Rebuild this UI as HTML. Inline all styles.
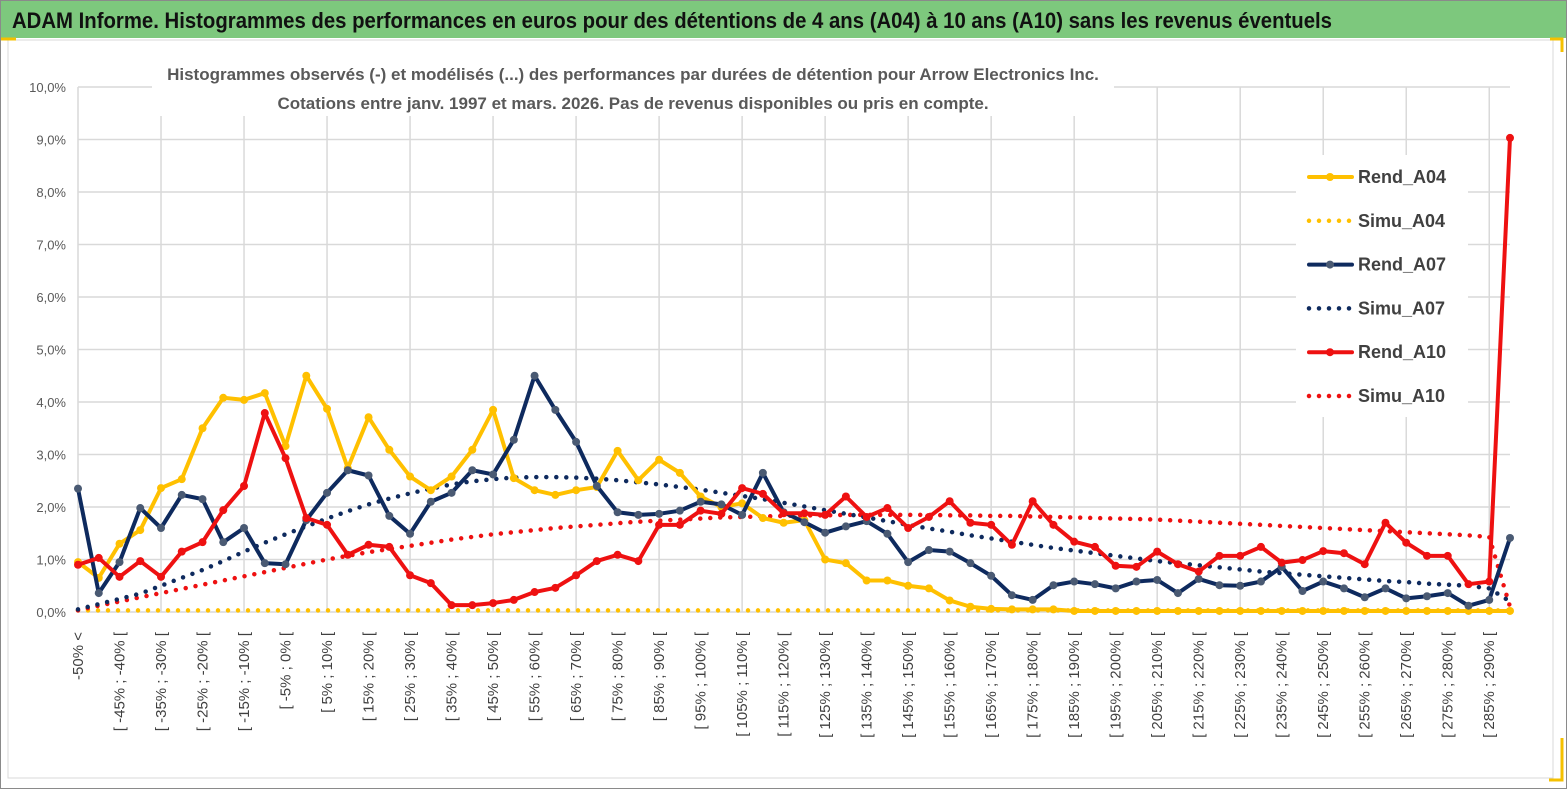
<!DOCTYPE html>
<html><head><meta charset="utf-8">
<style>
body{margin:0;width:1567px;height:789px;overflow:hidden;background:#fff;font-family:"Liberation Sans",sans-serif;}
#wrap{position:relative;width:1567px;height:789px;}
</style></head>
<body>
<div id="wrap">
<svg id="chart" width="1567" height="789" xmlns="http://www.w3.org/2000/svg">
  <rect x="0.5" y="0.5" width="1566" height="788" fill="#fff" stroke="#8a8a8a"/>
  <rect x="1" y="1" width="1565" height="37" fill="#7dc87d"/>
  <text x="12" y="28" font-size="22" font-weight="bold" fill="#111" textLength="1320" lengthAdjust="spacingAndGlyphs">ADAM Informe. Histogrammes des performances en euros pour des détentions de 4 ans (A04) à 10 ans (A10) sans les revenus éventuels</text>
  <rect x="8" y="40" width="1545" height="738" fill="#fff" stroke="#d9d9d9"/>
  <path d="M1 39 H16" stroke="#f5c000" stroke-width="3"/>
  <path d="M1550 39 H1562 V52" stroke="#f5c000" stroke-width="3" fill="none"/>
  <path d="M1562 738 V780 H1549" stroke="#f5c000" stroke-width="3" fill="none"/>
  <g id="grid"></g>
  <g id="ylabels"></g>
  <g id="xlabels"></g>
  <rect x="152" y="58" width="962" height="58" fill="#fff"/>
  <text x="633" y="80" font-size="17" font-weight="bold" fill="#595959" text-anchor="middle">Histogrammes observés (-)  et modélisés (...) des performances par durées de détention pour Arrow Electronics Inc.</text>
  <text x="633" y="109" font-size="17" font-weight="bold" fill="#595959" text-anchor="middle">Cotations entre janv. 1997 et mars. 2026.  Pas de  revenus disponibles ou pris en compte.</text>
  <g id="series"></g>
  <g id="legend"></g>
</svg>
</div>
<script>
const categories = (function(){const a=["-50% <"];for(let k=1;k<70;k++){a.push("[ "+(-55+5*k)+"% ; "+(-50+5*k)+"% [");}return a;})();
const yTicks = [0,1,2,3,4,5,6,7,8,9,10];
const yTickLabels = ["0,0%","1,0%","2,0%","3,0%","4,0%","5,0%","6,0%","7,0%","8,0%","9,0%","10,0%"];
const rendA04 = [0.95,0.65,1.3,1.56,2.36,2.53,3.5,4.08,4.04,4.17,3.16,4.5,3.87,2.74,3.71,3.09,2.58,2.32,2.58,3.09,3.85,2.55,2.32,2.23,2.32,2.38,3.07,2.51,2.9,2.65,2.2,2.0,2.07,1.79,1.7,1.75,1.0,0.93,0.6,0.6,0.5,0.45,0.22,0.1,0.06,0.05,0.05,0.05,0.02,0.02,0.02,0.02,0.02,0.02,0.02,0.02,0.02,0.02,0.02,0.02,0.02,0.02,0.02,0.02,0.02,0.02,0.02,0.02,0.02,0.02];
const simuA04 = [0.03,0.03,0.03,0.03,0.03,0.03,0.03,0.03,0.03,0.03,0.03,0.03,0.03,0.03,0.03,0.03,0.03,0.03,0.03,0.03,0.03,0.03,0.03,0.03,0.03,0.03,0.03,0.03,0.03,0.03,0.03,0.03,0.03,0.03,0.03,0.03,0.03,0.03,0.03,0.03,0.03,0.03,0.03,0.03,0.03,0.03,0.03,0.03,0.03,0.03,0.03,0.03,0.03,0.03,0.03,0.03,0.03,0.03,0.03,0.03,0.03,0.03,0.03,0.03,0.03,0.03,0.03,0.03,0.03,0.03];
const rendA07 = [2.35,0.36,0.95,1.98,1.6,2.23,2.15,1.33,1.6,0.93,0.91,1.75,2.27,2.7,2.6,1.83,1.49,2.1,2.27,2.7,2.62,3.28,4.5,3.85,3.24,2.4,1.9,1.85,1.87,1.93,2.1,2.05,1.85,2.65,1.9,1.71,1.51,1.63,1.73,1.49,0.95,1.18,1.15,0.93,0.69,0.32,0.23,0.51,0.58,0.53,0.45,0.58,0.61,0.36,0.63,0.51,0.5,0.58,0.86,0.4,0.58,0.45,0.28,0.45,0.26,0.3,0.36,0.12,0.23,1.41];
const simuA07 = [0.05,0.15,0.25,0.35,0.5,0.65,0.8,0.97,1.15,1.32,1.48,1.63,1.78,1.92,2.05,2.16,2.26,2.35,2.43,2.49,2.53,2.56,2.57,2.57,2.56,2.54,2.51,2.47,2.43,2.38,2.33,2.27,2.21,2.15,2.08,2.01,1.94,1.87,1.8,1.73,1.66,1.59,1.53,1.46,1.4,1.34,1.28,1.22,1.17,1.12,1.07,1.02,0.97,0.93,0.89,0.85,0.81,0.77,0.74,0.71,0.68,0.65,0.62,0.59,0.57,0.54,0.52,0.5,0.45,0.2];
const rendA10 = [0.9,1.03,0.67,0.97,0.67,1.15,1.33,1.94,2.4,3.79,2.93,1.79,1.66,1.09,1.28,1.24,0.7,0.55,0.13,0.13,0.17,0.23,0.38,0.46,0.7,0.97,1.09,0.97,1.66,1.66,1.93,1.87,2.36,2.25,1.88,1.88,1.85,2.2,1.81,1.98,1.6,1.81,2.11,1.7,1.66,1.28,2.11,1.66,1.34,1.24,0.88,0.86,1.15,0.91,0.77,1.07,1.07,1.24,0.94,0.99,1.16,1.12,0.91,1.7,1.32,1.07,1.07,0.53,0.58,9.03];
const simuA10 = [0.03,0.12,0.2,0.28,0.36,0.44,0.52,0.6,0.68,0.76,0.84,0.92,1.0,1.07,1.14,1.2,1.26,1.32,1.38,1.43,1.48,1.52,1.56,1.6,1.63,1.66,1.69,1.72,1.74,1.76,1.78,1.8,1.81,1.82,1.83,1.84,1.84,1.85,1.85,1.85,1.85,1.85,1.84,1.84,1.83,1.83,1.82,1.81,1.8,1.79,1.78,1.77,1.76,1.74,1.72,1.7,1.68,1.66,1.64,1.62,1.6,1.58,1.56,1.54,1.52,1.5,1.48,1.46,1.43,0.1];
const seriesNames = ["Rend_A04","Simu_A04","Rend_A07","Simu_A07","Rend_A10","Simu_A10"];

const NS="http://www.w3.org/2000/svg";
const X0=78,X1=1510,Y0=612,YTOP=87,YMAX=10;
function xPos(i){return X0+(X1-X0)*i/(categories.length-1);}
function yPos(v){return Y0-(Y0-YTOP)*v/YMAX;}
function mk(tag,attrs,parent){const e=document.createElementNS(NS,tag);for(const k in attrs)e.setAttribute(k,attrs[k]);parent.appendChild(e);return e;}

const grid=document.getElementById('grid');
yTicks.forEach(function(t,i){
  const l=mk('line',{x1:X0,x2:X1,y1:yPos(t),y2:yPos(t),stroke:'#d9d9d9','stroke-width':1.5},grid);
  
  
  const tx=mk('text',{x:66,y:yPos(t)+5,'font-size':13,fill:'#595959','text-anchor':'end'},document.getElementById('ylabels'));
  tx.textContent=yTickLabels[i];
  
  
});
for(let i=0;i<categories.length;i+=4){
  const l=mk('line',{x1:xPos(i),x2:xPos(i),y1:YTOP,y2:Y0,stroke:'#d9d9d9','stroke-width':1.5},grid);
  
  
}
const xl=document.getElementById('xlabels');
categories.forEach(function(c,i){
  if(i%2!==0)return;
  const x=xPos(i)+5,y=632;
  const t=mk('text',{x:x,y:y,'font-size':15,fill:'#404040','text-anchor':'end',transform:'rotate(-90 '+x+' '+y+')'},xl);
  t.textContent=c;
  
  
});

const sg=document.getElementById('series');
function drawLine(vals,color,name){
  const g=mk('g',{},sg);
  
  
  const pts=vals.map(function(v,i){return xPos(i)+','+yPos(v);}).join(' ');
  const pl=mk('polyline',{points:pts,fill:'none',stroke:color,'stroke-width':4,'stroke-linejoin':'round'},g);
  
  
  vals.forEach(function(v,i){
    const c=mk('circle',{cx:xPos(i),cy:yPos(v),r:4,fill:color==='#0e2a5e'?'#4a5a73':color},g);
    
    
  });
}
function drawDots(vals,color,name){
  const pts=vals.map(function(v,i){return xPos(i)+','+yPos(v);}).join(' ');
  const pl=mk('polyline',{points:pts,fill:'none',stroke:color,'stroke-width':4.5,'stroke-dasharray':'0 10','stroke-linecap':'round'},sg);
  
  
}
drawDots(simuA04,'#ffc000','simu-a04');
drawDots(simuA10,'#ee1111','simu-a10');
drawDots(simuA07,'#0e2a5e','simu-a07');
drawLine(rendA04,'#ffc000','rend-a04');
drawLine(rendA07,'#0e2a5e','rend-a07');
drawLine(rendA10,'#ee1111','rend-a10');

const lg=document.getElementById('legend');
const bg=mk('rect',{x:1296,y:155,width:172,height:262,fill:'#fff'},lg);


const legColors=['#ffc000','#ffc000','#0e2a5e','#0e2a5e','#ee1111','#ee1111'];
seriesNames.forEach(function(n,i){
  const y=177+i*43.8;
  const g=mk('g',{},lg);
  
  
  if(i%2===0){
    mk('line',{x1:1309,x2:1352,y1:y,y2:y,stroke:legColors[i],'stroke-width':4,'stroke-linecap':'round'},g);
    mk('circle',{cx:1330,cy:y,r:4,fill:legColors[i]===('#0e2a5e')?'#4a5a73':legColors[i]},g);
  } else {
    mk('line',{x1:1309,x2:1352,y1:y,y2:y,stroke:legColors[i],'stroke-width':4.5,'stroke-dasharray':'0 10','stroke-linecap':'round'},g);
  }
  const t=mk('text',{x:1358,y:y+6,'font-size':18,'font-weight':'bold',fill:'#404040'},g);
  t.textContent=n;
});
</script>
</body></html>
